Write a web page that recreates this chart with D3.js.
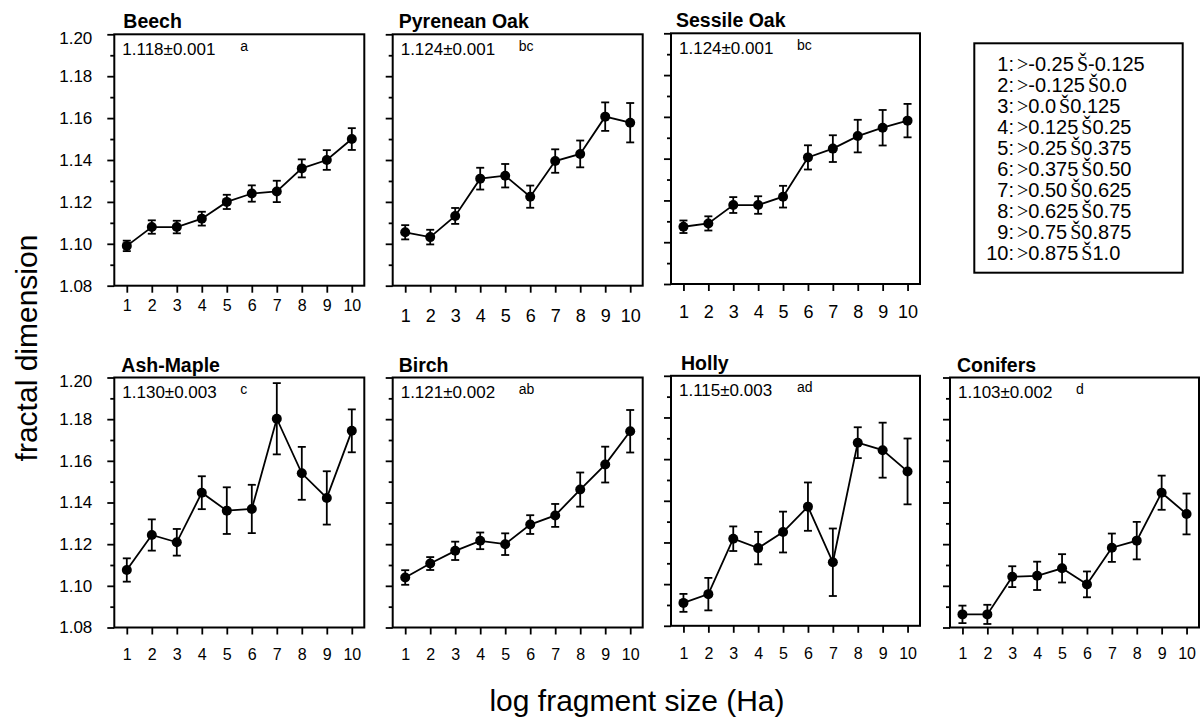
<!DOCTYPE html>
<html>
<head>
<meta charset="utf-8">
<script src="https://cdn.jsdelivr.net/npm/d3@7"></script>
<style>
  body { margin: 0; background: #fff; }
  svg { display: block; }
  text { font-family: "Liberation Sans", Arial, Helvetica, sans-serif; fill: #000; }
</style>
</head>
<body>
<svg id="chart" width="1200" height="718"></svg>
<script>
// Fragment size classes (x categories) and their log-size bounds
const sizeClasses = [1, 2, 3, 4, 5, 6, 7, 8, 9, 10];
const classLower = ["-0.25", "-0.125", "0.0", "0.125", "0.25", "0.375", "0.50", "0.625", "0.75", "0.875"];
const classUpper = ["-0.125", "0.0", "0.125", "0.25", "0.375", "0.50", "0.625", "0.75", "0.875", "1.0"];

// Y axis ticks
const yDomain = [1.08, 1.20];
const yTickValues = [1.08, 1.10, 1.12, 1.14, 1.16, 1.18, 1.20];
const yMinorValues = [1.09, 1.11, 1.13, 1.15, 1.17, 1.19];

// Species panels, overall mean ± SE and group letters
const speciesNames = ["Beech", "Pyrenean Oak", "Sessile Oak", "Ash-Maple", "Birch", "Holly", "Conifers"];
const meanLabels = ["1.118±0.001", "1.124±0.001", "1.124±0.001", "1.130±0.003", "1.121±0.002", "1.115±0.003", "1.103±0.002"];
const groupLetters = ["a", "bc", "bc", "c", "ab", "ad", "d"];

// Mean fractal dimension per size class, with standard errors
const beechMean = [1.099, 1.108, 1.108, 1.112, 1.120, 1.124, 1.125, 1.136, 1.140, 1.150];
const beechSE   = [0.0025, 0.0032, 0.0030, 0.0033, 0.0034, 0.0039, 0.0051, 0.0043, 0.0047, 0.0052];
const pyreneanMean = [1.1055, 1.1032, 1.1133, 1.1311, 1.1325, 1.1225, 1.1395, 1.1429, 1.1607, 1.1578];
const pyreneanSE   = [0.0034, 0.0035, 0.0038, 0.0052, 0.0056, 0.0053, 0.0056, 0.0064, 0.0068, 0.0094];
const sessileMean = [1.1074, 1.1090, 1.1178, 1.1178, 1.1218, 1.1406, 1.1448, 1.1508, 1.1548, 1.1582];
const sessileSE   = [0.0030, 0.0034, 0.0038, 0.0042, 0.0052, 0.0058, 0.0064, 0.0078, 0.0085, 0.0080];
const ashMapleMean = [1.1076, 1.1244, 1.1209, 1.1447, 1.1361, 1.1369, 1.1802, 1.1540, 1.1422, 1.1744];
const ashMapleSE   = [0.0056, 0.0075, 0.0064, 0.0079, 0.0112, 0.0116, 0.0171, 0.0127, 0.0128, 0.0103];
const birchMean = [1.1040, 1.1107, 1.1168, 1.1216, 1.1200, 1.1294, 1.1338, 1.1462, 1.1582, 1.1742];
const birchSE   = [0.0035, 0.0031, 0.0044, 0.0040, 0.0052, 0.0045, 0.0055, 0.0082, 0.0086, 0.0102];
const hollyMean = [1.0910, 1.0952, 1.1218, 1.1173, 1.1250, 1.1372, 1.1105, 1.1679, 1.1643, 1.1541];
const hollySE   = [0.0043, 0.0078, 0.0059, 0.0078, 0.0098, 0.0116, 0.0162, 0.0074, 0.0132, 0.0158];
const conifersMean = [1.0863, 1.0863, 1.1044, 1.1048, 1.1084, 1.1007, 1.1183, 1.1217, 1.1447, 1.1345];
const conifersSE   = [0.0042, 0.0046, 0.0050, 0.0068, 0.0068, 0.0062, 0.0068, 0.0090, 0.0082, 0.0098];

const seriesMeans = [beechMean, pyreneanMean, sessileMean, ashMapleMean, birchMean, hollyMean, conifersMean];
const seriesSE = [beechSE, pyreneanSE, sessileSE, ashMapleSE, birchSE, hollySE, conifersSE];

// Panel frames: left, top, width, height; plus tick-label placement
const panelLayout = [
  { left: 114.3, top: 34.3,  w: 250, h: 251.4, tickLabelY: 25, tickFont: 16, titleDx: 9 },
  { left: 392.7, top: 34.3,  w: 250, h: 251.4, tickLabelY: 36, tickFont: 18, titleDx: 6 },
  { left: 671,   top: 33.3,  w: 249, h: 250.7, tickLabelY: 34, tickFont: 18, titleDx: 5 },
  { left: 114.3, top: 377.5, w: 250, h: 250,   tickLabelY: 32, tickFont: 16, titleDx: 7 },
  { left: 392.7, top: 377.5, w: 250, h: 250,   tickLabelY: 32, tickFont: 16, titleDx: 6 },
  { left: 671,   top: 375.8, w: 249, h: 250,   tickLabelY: 33, tickFont: 16, titleDx: 10 },
  { left: 950,   top: 377.5, w: 249, h: 250,   tickLabelY: 31, tickFont: 16, titleDx: 7 }
];

const svg = d3.select("#chart");
svg.append("rect").attr("width", 1200).attr("height", 718).attr("fill", "#fff");

speciesNames.forEach((name, i) => {
  const L = panelLayout[i];
  const g = svg.append("g");
  const x = d3.scaleLinear().domain([0.5, 10.5]).range([L.left, L.left + L.w]);
  const y = d3.scaleLinear().domain(yDomain).range([L.top + L.h, L.top]);
  const showY = (L.left < 200);

  // Minor y ticks
  g.append("g")
    .attr("transform", `translate(${L.left},0)`)
    .call(d3.axisLeft(y).tickValues(yMinorValues).tickSize(4).tickFormat(""))
    .call(a => a.select(".domain").remove())
    .call(a => a.selectAll("line").attr("stroke", "#000").attr("stroke-width", 1.8));

  // Major y ticks
  const yAxis = g.append("g")
    .attr("transform", `translate(${L.left},0)`)
    .call(d3.axisLeft(y).tickValues(yTickValues).tickSize(7).tickPadding(15)
      .tickFormat(showY ? d3.format(".2f") : ""))
    .call(a => a.select(".domain").remove())
    .call(a => a.selectAll("line").attr("stroke", "#000").attr("stroke-width", 1.8));
  yAxis.selectAll("text")
    .attr("font-size", 17)
    .attr("font-family", "'Liberation Sans', Arial, sans-serif")
    .attr("fill", "#000")
    .filter(d => d === 1.20).attr("dy", "0.52em");

  // X ticks
  const xAxis = g.append("g")
    .attr("transform", `translate(0,${L.top + L.h})`)
    .call(d3.axisBottom(x).tickValues(sizeClasses).tickSize(7).tickSizeOuter(0).tickPadding(0))
    .call(a => a.select(".domain").remove())
    .call(a => a.selectAll("line").attr("stroke", "#000").attr("stroke-width", 1.8));
  xAxis.selectAll("text")
    .attr("font-size", L.tickFont)
    .attr("font-family", "'Liberation Sans', Arial, sans-serif")
    .attr("fill", "#000")
    .attr("dy", 0)
    .attr("y", L.tickLabelY);

  // Frame
  g.append("rect")
    .attr("x", L.left).attr("y", L.top)
    .attr("width", L.w).attr("height", L.h)
    .attr("fill", "none").attr("stroke", "#000").attr("stroke-width", 2);

  // Title
  g.append("text")
    .attr("x", L.left + L.titleDx).attr("y", L.top - 6)
    .attr("font-size", 19.5).attr("font-weight", "bold")
    .text(name);

  // Overall mean ± SE and group letter
  g.append("text")
    .attr("x", L.left + 8).attr("y", L.top + 20.5)
    .attr("font-size", 17)
    .text(meanLabels[i]);
  g.append("text")
    .attr("x", L.left + 126).attr("y", L.top + 16.5)
    .attr("font-size", 14)
    .text(groupLetters[i]);

  const pts = sizeClasses.map((c, k) => ({ c, m: seriesMeans[i][k], se: seriesSE[i][k] }));

  // Error bars
  const eb = g.append("g").attr("stroke", "#000").attr("stroke-width", 1.8);
  pts.forEach(p => {
    const cx = x(p.c), y1 = y(p.m + p.se), y2 = y(p.m - p.se);
    eb.append("line").attr("x1", cx).attr("x2", cx).attr("y1", y1).attr("y2", y2);
    eb.append("line").attr("x1", cx - 4).attr("x2", cx + 4).attr("y1", y1).attr("y2", y1);
    eb.append("line").attr("x1", cx - 4).attr("x2", cx + 4).attr("y1", y2).attr("y2", y2);
  });

  // Connecting line
  g.append("path")
    .datum(pts)
    .attr("fill", "none").attr("stroke", "#000").attr("stroke-width", 1.8)
    .attr("d", d3.line().x(p => x(p.c)).y(p => y(p.m)));

  // Markers
  g.selectAll("circle.pt").data(pts).enter().append("circle")
    .attr("class", "pt")
    .attr("cx", p => x(p.c)).attr("cy", p => y(p.m)).attr("r", 5)
    .attr("fill", "#000");
});

// Size-class legend
const legend = svg.append("g");
legend.append("rect")
  .attr("x", 974.3).attr("y", 43.3).attr("width", 208.4).attr("height", 229.4)
  .attr("fill", "#fff").attr("stroke", "#000").attr("stroke-width", 2);
sizeClasses.forEach((c, k) => {
  const by = 70.7 + k * 21.03;
  legend.append("text")
    .attr("x", 1014).attr("y", by).attr("text-anchor", "end")
    .attr("font-size", 20)
    .text(c + ":");
  const t = legend.append("text").attr("x", 1017).attr("y", by).attr("font-size", 20);
  t.append("tspan").attr("font-family", "'Liberation Serif', 'Times New Roman', serif").text(">");
  t.append("tspan").text(classLower[k]);
  t.append("tspan").attr("dx", 3).attr("font-family", "'Liberation Serif', 'Times New Roman', serif").text("Š");
  t.append("tspan").text(classUpper[k]);
});

// Shared axis titles
svg.append("text")
  .attr("transform", "translate(37,348) rotate(-90)")
  .attr("text-anchor", "middle")
  .attr("font-size", 30)
  .text("fractal dimension");
svg.append("text")
  .attr("x", 637).attr("y", 711)
  .attr("text-anchor", "middle")
  .attr("font-size", 30)
  .text("log fragment size (Ha)");
</script>
</body>
</html>
